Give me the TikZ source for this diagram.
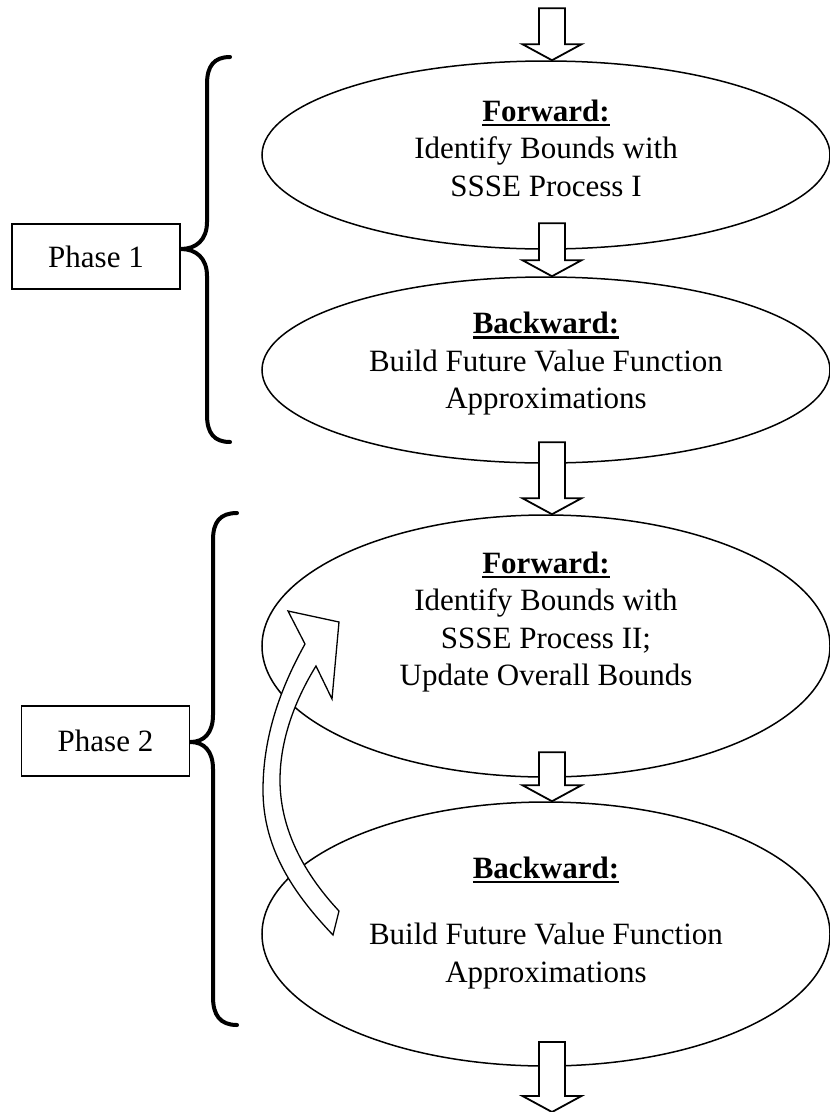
\documentclass[tikz,border=0pt]{standalone}
\usepackage{fontspec}
\setmainfont{Liberation Serif}
\usetikzlibrary{shapes.geometric}
\newcommand\stagehead[1]{\leavevmode\vtop{\hbox{\textbf{#1}}\kern2bp\hrule height 2.3bp}}
\tikzset{
  stage/.style={draw, ellipse, line width=1.5bp, fill=white, minimum width=568bp,
    minimum height=#1, inner sep=0pt},
  caption/.style={align=center, font=\fontsize{31bp}{37.5bp}\selectfont, inner sep=0pt},
  phasebox/.style={draw, line width=1.8bp, fill=white, minimum width=168bp,
    minimum height=#1, inner sep=0pt, font=\fontsize{31bp}{37.5bp}\selectfont},
  blockarrow/.style={draw, line width=1.8bp, fill=white, line join=miter},
  brace/.style={draw, line width=4bp, line cap=round},
  loopback/.style={draw, line width=1.3bp, fill=white, line join=miter},
  pics/flowarrow/.style={code={
    \draw[blockarrow] (-13,-#1) -- (13,-#1) -- (13,-16) -- (29.5,-16) -- (0,0)
      -- (-29.5,-16) -- (-13,-16) -- cycle;}}
}
\begin{document}
\begin{tikzpicture}[x=1bp, y=-1bp]
\useasboundingbox (0,0) rectangle (830,1112);

% the four stages
\node[stage=188bp] (e1) at (546,155) {};
\node[stage=186bp] (e2) at (546,370) {};
\node[stage=262bp] (e3) at (546,646) {};
\node[stage=264bp] (e4) at (546,934) {};

% block arrows between the stages
\pic at ([xshift=6bp]e1.north) {flowarrow=52};
\pic at ([xshift=6bp]e2.north) {flowarrow=53};
\pic at ([xshift=6bp]e3.north) {flowarrow=72};
\pic at ([xshift=6bp]e4.north) {flowarrow=49};
\coordinate (exit) at (552,1112);
\pic at (exit) {flowarrow=70};

% stage texts
\node[caption] (t1) at (546,148) {\stagehead{Forward:}\\Identify Bounds with\\SSSE Process I};
\node[caption] (t2) at (546,364) {\stagehead{Backward:}\\Build Future Value Function\\Approximations};
\node[caption] (t3) at (546,622) {\stagehead{Forward:}\\Identify Bounds with\\SSSE Process II;\\Update Overall Bounds};
\node[caption] (t4) at (546,923) {\stagehead{Backward:}\\[29bp]Build Future Value Function\\Approximations};

% phase labels
\node[phasebox=65bp] (p1) at (96,256.5) {Phase 1};
\node[phasebox=70bp] (p2) at (105.5,741) {Phase 2};

% braces grouping the stages of each phase
\draw[brace] (230,57) .. controls (214,57) and (207,66) .. (207,84) -- (207,222)
  .. controls (207,240) and (196,249) .. (p1.east |- 0,249)
  .. controls (196,249) and (207,258) .. (207,276) -- (207,415)
  .. controls (207,433) and (214,442) .. (230,442);
\draw[brace] (237,513) .. controls (220,513) and (213,522) .. (213,540) -- (213,715)
  .. controls (213,733) and (204,742) .. (p2.east |- 0,742)
  .. controls (204,742) and (213,751) .. (213,769) -- (213,997)
  .. controls (213,1015) and (220,1025) .. (237,1025);

% loop from the backward pass back to the forward pass
\draw[loopback] (333,935) .. controls (295,895) and (263,850) .. (263,790)
  .. controls (263,730) and (285,680) .. (305,644)
  -- (288,611) -- (339,622) -- (332,699) -- (316,666)
  .. controls (295,700) and (280,740) .. (280,780)
  .. controls (280,835) and (310,880) .. (339,911) -- cycle;
\end{tikzpicture}
\end{document}
